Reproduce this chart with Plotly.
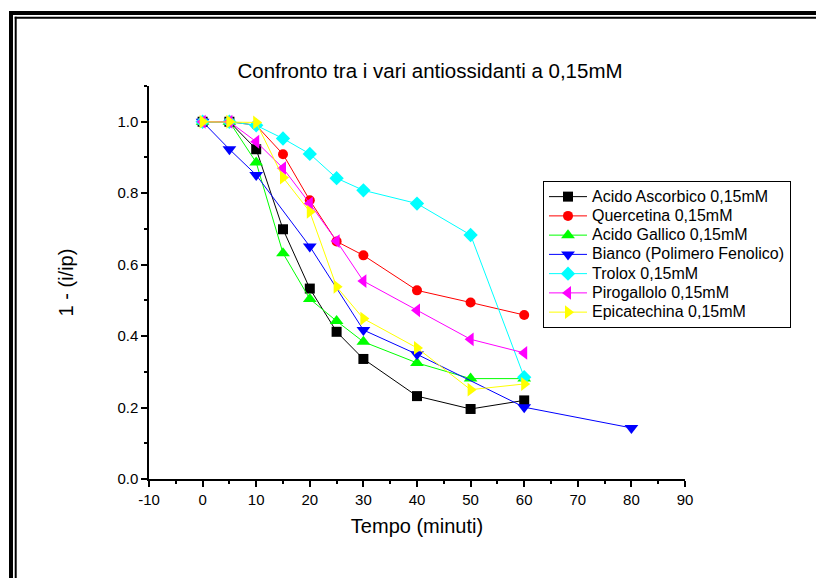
import plotly.graph_objects as go

# ---- data ----
series_names = [
    "Acido Ascorbico 0,15mM",
    "Quercetina 0,15mM",
    "Acido Gallico 0,15mM",
    "Bianco (Polimero Fenolico)",
    "Trolox 0,15mM",
    "Pirogallolo 0,15mM",
    "Epicatechina 0,15mM",
]
t_ascorbico = [0, 5, 10, 15, 20, 25, 30, 40, 50, 60]
v_ascorbico = [1.0, 1.0, 0.923, 0.699, 0.533, 0.412, 0.336, 0.232, 0.196, 0.220]
t_quercetina = [0, 5, 10, 15, 20, 25, 30, 40, 50, 60]
v_quercetina = [1.0, 1.0, 0.99, 0.909, 0.780, 0.665, 0.626, 0.528, 0.494, 0.459]
t_gallico = [0, 5, 10, 15, 20, 25, 30, 40, 50, 60]
v_gallico = [1.0, 1.0, 0.886, 0.632, 0.504, 0.442, 0.384, 0.325, 0.281, 0.281]
t_bianco = [0, 5, 10, 20, 30, 40, 60, 80]
v_bianco = [1.0, 0.923, 0.851, 0.651, 0.417, 0.349, 0.201, 0.143]
t_trolox = [0, 5, 10, 15, 20, 25, 30, 40, 50, 60]
v_trolox = [1.0, 1.0, 0.99, 0.953, 0.910, 0.842, 0.808, 0.771, 0.683, 0.285]
t_pirogallolo = [0, 5, 10, 15, 20, 25, 30, 40, 50, 60]
v_pirogallolo = [1.0, 1.0, 0.944, 0.870, 0.771, 0.666, 0.554, 0.472, 0.391, 0.353]
t_epicatechina = [0, 5, 10, 15, 20, 25, 30, 40, 50, 60]
v_epicatechina = [1.0, 1.0, 0.998, 0.844, 0.748, 0.538, 0.449, 0.367, 0.250, 0.266]

x_ticks = [-10, 0, 10, 20, 30, 40, 50, 60, 70, 80, 90]
y_ticks = [0.0, 0.2, 0.4, 0.6, 0.8, 1.0]

# ---- styles ----
colors = ["#000000", "#ff0000", "#00ff00", "#0000ff", "#00ffff", "#ff00ff", "#ffff00"]
symbols = ["square", "circle", "triangle-up", "triangle-down", "diamond",
           "triangle-left", "triangle-right"]
msizes = [10, 10, 12, 12, 11, 12, 12]

xs = [t_ascorbico, t_quercetina, t_gallico, t_bianco, t_trolox, t_pirogallolo, t_epicatechina]
ys = [v_ascorbico, v_quercetina, v_gallico, v_bianco, v_trolox, v_pirogallolo, v_epicatechina]

# page is offset by the 8px body margin; work in figure coordinates
OFF = 8
W, H = 824, 578
L = 149 - OFF
T = 86 - OFF
R = W - (685 - OFF)
B = H - (479 - OFF)
PW, PH = W - L - R, H - T - B

def px(x):  # page px -> paper
    return (x - OFF - L) / PW

def py(y):  # page px -> paper
    return (H - B - (y - OFF)) / PH

fig = go.Figure()
for name, x, y, c, s, ms in zip(series_names, xs, ys, colors, symbols, msizes):
    fig.add_trace(go.Scatter(
        x=x, y=y, name='<span style="font-size:16px">%s</span>' % name,
        mode="lines+markers",
        line=dict(color=c, width=1),
        marker=dict(symbol=s, size=ms, color=c, line=dict(width=0)),
    ))

font_family = "Liberation Sans, Arial, sans-serif"

fig.update_layout(
    width=W, height=H,
    margin=dict(l=L, r=R, t=T, b=B, autoexpand=False),
    paper_bgcolor="white", plot_bgcolor="white",
    font=dict(family=font_family, color="black"),
    title=dict(text="Confronto tra i vari antiossidanti a 0,15mM",
               x=(430 - OFF) / W, xref="container", xanchor="center",
               y=1 - (71 - OFF) / H, yref="container", yanchor="middle",
               font=dict(size=20.5, color="black")),
    showlegend=True,
    legend=dict(x=px(543), y=py(181), xanchor="left", yanchor="top",
                bordercolor="black", borderwidth=1, bgcolor="white",
                font=dict(size=12.5, color="black"), tracegroupgap=0,
                itemwidth=38),
    xaxis=dict(range=[-10, 90], tickvals=x_ticks, ticktext=[str(v) for v in x_ticks],
               showline=True, linecolor="black", linewidth=1.5,
               ticks="outside", ticklen=6, tickwidth=1.5, tickcolor="black",
               minor=dict(dtick=5, tick0=-10, ticks="outside", ticklen=3.5,
                          tickwidth=1.5, tickcolor="black"),
               showgrid=False, zeroline=False, mirror=False,
               tickfont=dict(size=15),
               title=dict(text="Tempo (minuti)", font=dict(size=20), standoff=12)),
    yaxis=dict(range=[0, 1.1], tickvals=y_ticks, ticktext=["%.1f" % v for v in y_ticks],
               showline=True, linecolor="black", linewidth=1.5,
               ticks="outside", ticklen=6, tickwidth=1.5, tickcolor="black",
               minor=dict(dtick=0.1, tick0=0, ticks="outside", ticklen=3.5,
                          tickwidth=1.5, tickcolor="black"),
               showgrid=False, zeroline=False, mirror=False,
               tickfont=dict(size=15),
               title=dict(text="1 - (i/ip)", font=dict(size=20), standoff=38)),
)

# outer double frame: only left and top edges are visible in the reference
frame = [(11, 13, 4), (15.7, 17.8, 2)]
for fx, fy, fw in frame:
    fig.add_shape(type="line", xref="paper", yref="paper",
                  x0=px(fx), y0=py(fy - fw / 2), x1=px(fx), y1=py(578),
                  line=dict(color="black", width=fw), layer="above")
    fig.add_shape(type="line", xref="paper", yref="paper",
                  x0=px(fx - fw / 2), y0=py(fy), x1=px(824), y1=py(fy),
                  line=dict(color="black", width=fw), layer="above")

fig.write_html("out.html")
